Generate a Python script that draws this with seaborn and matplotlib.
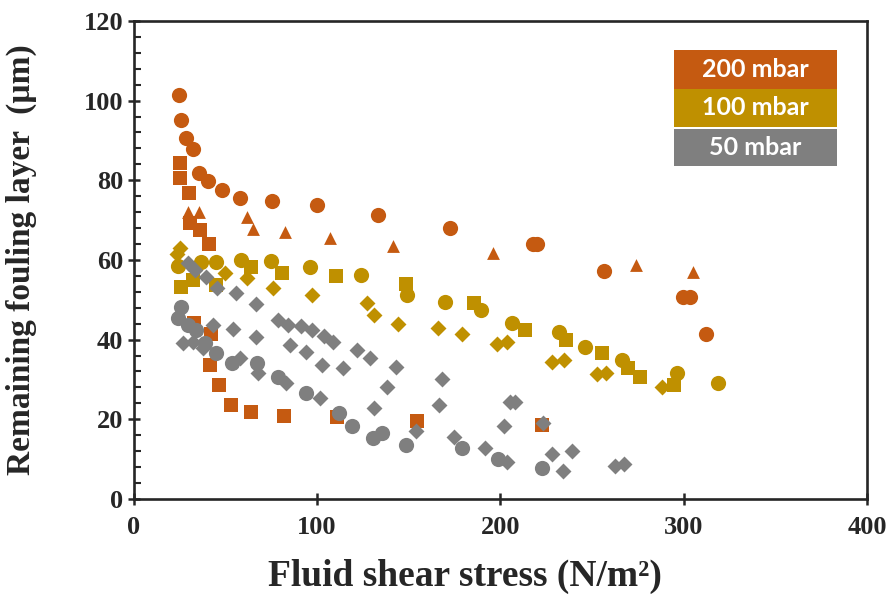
"""
Remaining fouling layer vs fluid shear stress at three pressures
"""

import numpy as np
import pandas as pd
import matplotlib
matplotlib.use("Agg")
import matplotlib.pyplot as plt
from matplotlib.patches import Rectangle
from matplotlib.ticker import MultipleLocator
import seaborn as sns

# 200 mbar
p200_circle_x = [24.6, 25.6, 28.4, 32.4, 35.3, 40.5, 47.9, 57.8, 75.5, 99.9, 133.2, 172.3, 218.0, 220.0, 256.5, 299.7, 303.4, 312.0]
p200_circle_y = [101.5, 95.2, 90.5, 87.9, 81.8, 79.9, 77.6, 75.6, 74.9, 73.8, 71.4, 68.0, 63.9, 63.9, 57.3, 50.6, 50.6, 41.4]
p200_tri_x = [29.3, 35.6, 61.8, 65.1, 82.4, 107.3, 141.5, 195.7, 273.8, 304.9]
p200_tri_y = [72.1, 72.1, 70.9, 67.8, 67.0, 65.4, 63.5, 61.7, 58.7, 57.0]
p200_square_x = [25.1, 25.1, 30.3, 30.9, 36.3, 41.2, 32.7, 41.9, 41.5, 46.5, 52.8, 64.2, 81.9, 110.6, 154.3, 222.5]
p200_square_y = [84.4, 80.6, 76.7, 69.4, 67.6, 63.9, 44.1, 41.5, 33.6, 28.6, 23.6, 21.8, 20.8, 20.7, 19.6, 18.5]

# 100 mbar
p100_circle_x = [24.2, 36.9, 44.9, 58.3, 75.1, 96.2, 123.7, 148.8, 169.5, 189.2, 206.3, 232.1, 246.1, 266.1, 296.1, 318.9]
p100_circle_y = [58.5, 59.6, 59.6, 59.9, 59.7, 58.3, 56.2, 51.2, 49.5, 47.5, 44.3, 42.0, 38.2, 34.9, 31.6, 29.0]
p100_square_x = [25.5, 32.4, 45.1, 64.2, 80.6, 110.1, 148.4, 185.5, 213.5, 235.7, 255.2, 269.7, 276.1, 294.8]
p100_square_y = [53.3, 55.0, 53.7, 58.3, 56.7, 56.0, 54.0, 49.3, 42.4, 39.9, 36.7, 32.8, 30.6, 28.6]
p100_diamond_x = [25.1, 23.8, 49.7, 61.5, 76.0, 97.0, 127.0, 131.0, 144.2, 166.1, 179.2, 197.9, 203.7, 227.9, 234.7, 252.5, 257.6, 288.0]
p100_diamond_y = [62.9, 61.5, 56.7, 55.4, 52.9, 51.2, 49.1, 46.2, 43.9, 42.8, 41.4, 38.9, 39.5, 34.5, 34.9, 31.4, 31.7, 28.2]

# 50 mbar
p50_circle_x = [26.0, 24.2, 29.6, 33.8, 38.7, 45.1, 53.3, 67.0, 78.7, 94.2, 112.0, 119.1, 130.3, 135.2, 148.4, 179.2, 198.8, 222.5]
p50_circle_y = [48.1, 45.4, 43.7, 42.4, 39.1, 36.7, 34.1, 34.2, 30.7, 26.5, 21.5, 18.3, 15.2, 16.6, 13.6, 12.9, 10.0, 7.7]
p50_diamond_x = [29.6, 33.3, 39.3, 45.5, 56.0, 66.6, 43.3, 54.2, 66.6, 78.7, 84.2, 91.0, 97.0, 103.8, 108.8,
                 85.1, 94.2, 102.8, 113.9, 121.5, 128.8, 142.8, 137.9, 26.9, 32.4, 37.8, 57.8, 67.8, 83.3,
                 101.8, 131.0, 167.9, 166.6, 153.9, 174.6, 191.7, 203.4, 201.9, 205.2, 207.9, 223.4, 227.9,
                 238.9, 234.3, 262.7, 267.2]
p50_diamond_y = [59.2, 57.5, 55.7, 52.9, 51.8, 49.0, 43.7, 42.6, 40.7, 44.9, 43.7, 43.3, 42.4, 40.9, 39.5,
                 38.7, 36.8, 33.6, 33.0, 37.4, 35.5, 33.2, 28.0, 39.1, 39.5, 37.8, 35.4, 31.6, 29.2,
                 25.3, 22.8, 30.1, 23.6, 17.1, 15.5, 12.9, 9.2, 18.4, 24.4, 24.4, 19.0, 11.2,
                 12.1, 7.1, 8.4, 8.8]

pressures = ["200 mbar", "100 mbar", "50 mbar"]
colors = ["#C55A11", "#BF9000", "#7F7F7F"]

series = [
    ("200 mbar", "o", p200_circle_x, p200_circle_y),
    ("200 mbar", "^", p200_tri_x, p200_tri_y),
    ("200 mbar", "s", p200_square_x, p200_square_y),
    ("100 mbar", "o", p100_circle_x, p100_circle_y),
    ("100 mbar", "s", p100_square_x, p100_square_y),
    ("100 mbar", "D", p100_diamond_x, p100_diamond_y),
    ("50 mbar", "o", p50_circle_x, p50_circle_y),
    ("50 mbar", "D", p50_diamond_x, p50_diamond_y),
]
sizes = {"o": 120, "s": 105, "D": 66, "^": 85}

frames = []
for p, m, xs, ys in series:
    frames.append(pd.DataFrame({"stress": xs, "layer": ys, "pressure": p, "marker": m}))
df = pd.concat(frames, ignore_index=True)

sns.set_style("ticks")
plt.rcParams["font.family"] = ["Liberation Serif", "DejaVu Serif"]

fig = plt.figure(figsize=(8.92, 5.99), dpi=100)
ax = fig.add_axes([0.150, 0.167, 0.822, 0.798])

palette = dict(zip(pressures, colors))
for (p, m), grp in df.groupby(["pressure", "marker"], sort=False):
    sns.scatterplot(data=grp, x="stress", y="layer", color=palette[p], marker=m,
                    s=sizes[m], linewidth=0, ax=ax, legend=False, zorder=3 + pressures.index(p))

ax.set_xlim(0, 400)
ax.set_ylim(0, 120)
ax.xaxis.set_major_locator(MultipleLocator(100))
ax.yaxis.set_major_locator(MultipleLocator(20))
ax.yaxis.set_minor_locator(MultipleLocator(4))
ax.tick_params(axis="both", which="major", direction="inout", length=9, width=1.8,
               labelsize=19)
ax.tick_params(axis="x", which="major", pad=8)
ax.tick_params(axis="y", which="major", pad=3)
ax.tick_params(axis="y", which="minor", direction="in", length=5, width=1.5)
for lab in ax.get_xticklabels() + ax.get_yticklabels():
    lab.set_fontweight("bold")
for sp in ax.spines.values():
    sp.set_linewidth(1.9)
    sp.set_visible(True)

ax.set_xlabel("Fluid shear stress (N/m\u00b2)", fontsize=27, fontweight="bold")
ax.xaxis.set_label_coords(0.452, -0.125)
ax.set_ylabel("Remaining fouling layer  (\u00b5m)", fontsize=24, fontweight="bold")
ax.yaxis.set_label_coords(-0.132, 0.5)

# legend boxes
box_y = [0.858, 0.778, 0.697]
box_h = [0.081, 0.080, 0.077]
for lab, c, y0, h in zip(pressures, colors, box_y, box_h):
    ax.add_patch(Rectangle((0.737, y0), 0.222, h, transform=ax.transAxes, facecolor=c,
                           edgecolor="none", zorder=10, clip_on=False))
    ax.text(0.848, y0 + h / 2, lab, transform=ax.transAxes, ha="center", va="center",
            color="white", fontsize=18, fontweight="bold", family=["Lato", "DejaVu Sans"], zorder=11)

fig.savefig("out.png", dpi=100)
